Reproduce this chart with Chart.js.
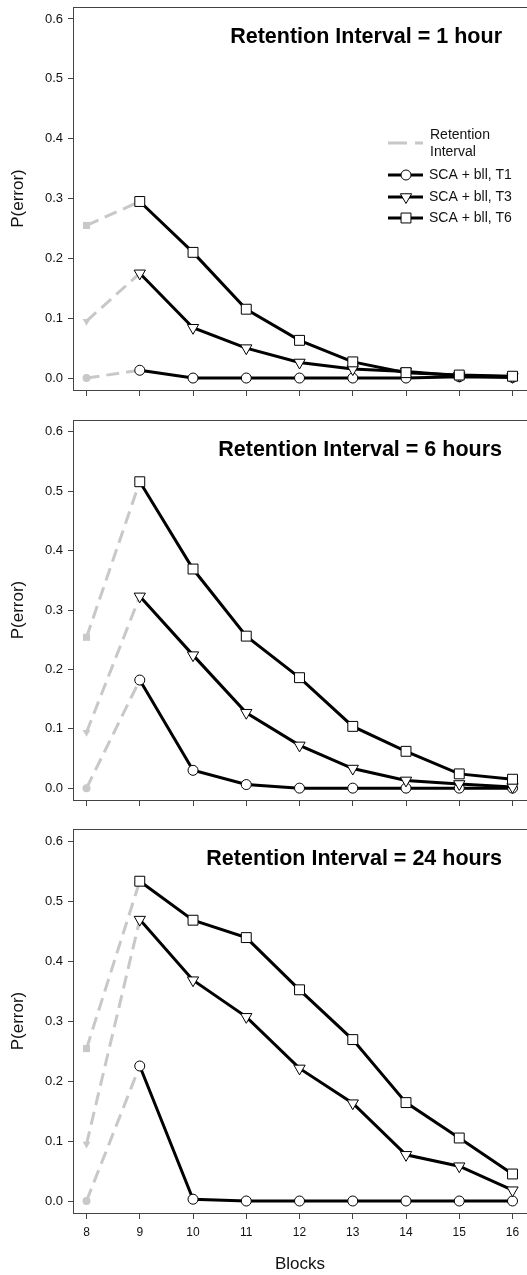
<!DOCTYPE html>
<html>
<head>
<meta charset="utf-8">
<script src="https://cdn.jsdelivr.net/npm/chart.js@4.4.1/dist/chart.umd.min.js"></script>
<style>
  html, body { margin: 0; padding: 0; background: #fff; }
  #wrap { position: relative; width: 527px; height: 1275px; overflow: hidden; }
  canvas { position: absolute; left: 0; }
</style>
</head>
<body>
<div id="wrap">
  <canvas id="p1" width="527" height="410" style="top:0px"></canvas>
  <canvas id="p2" width="527" height="410" style="top:410px"></canvas>
  <canvas id="p3" width="527" height="455" style="top:820px"></canvas>
</div>
<script>
'use strict';

// ---- data ----
const blocks = [9, 10, 11, 12, 13, 14, 15, 16];
const startBlock = 8;
const xTickValues = [8, 9, 10, 11, 12, 13, 14, 15, 16];
const yTickValues = [0, 0.1, 0.2, 0.3, 0.4, 0.5, 0.6];
const seriesLabels = ['SCA + bll, T1', 'SCA + bll, T3', 'SCA + bll, T6'];
const panelTitles = ['Retention Interval = 1 hour', 'Retention Interval = 6 hours', 'Retention Interval = 24 hours'];

// P(error) for blocks 9..16
const hour1T1 = [0.013, 0.0, 0.0, 0.0, 0.0, 0.0, 0.002, 0.001];
const hour1T3 = [0.175, 0.084, 0.05, 0.026, 0.015, 0.011, 0.004, 0.002];
const hour1T6 = [0.295, 0.21, 0.115, 0.063, 0.027, 0.009, 0.005, 0.003];

const hour6T1 = [0.182, 0.03, 0.006, 0.0, 0.0, 0.0, 0.0, 0.0];
const hour6T3 = [0.323, 0.224, 0.127, 0.072, 0.033, 0.013, 0.007, 0.002];
const hour6T6 = [0.516, 0.369, 0.256, 0.186, 0.104, 0.062, 0.024, 0.015];

const hour24T1 = [0.225, 0.003, 0.0, 0.0, 0.0, 0.0, 0.0, 0.0];
const hour24T3 = [0.469, 0.368, 0.307, 0.221, 0.163, 0.077, 0.058, 0.018];
const hour24T6 = [0.533, 0.468, 0.439, 0.352, 0.269, 0.164, 0.105, 0.045];

// block 8 values (before the retention interval): T1, T3, T6
const hour1Start = [0.0, 0.095, 0.255];
const hour6Start = [0.0, 0.094, 0.254];
const hour24Start = [0.0, 0.095, 0.254];

// ---- styles ----
const FONT = "'Liberation Sans', Arial, Helvetica, sans-serif";
const AXIS = '#444';
const GRAY = '#c8c8c8';
const DASH = [13, 7];
const MARKERS = [
    { style: 'circle', r: 5, rot: 0, gr: 4 },
    { style: 'triangle', r: 6.5, rot: 180, gr: 4.5 },
    { style: 'rect', r: 7, rot: 0, gr: 5 }
];

function toPoints(xs, ys) {
    return xs.map((x, i) => ({ x: x, y: ys[i] }));
}

function buildDatasets(series, starts) {
    const black = [];
    const gray = [];
    // T6 first so it sits on top, gray retention lines last (drawn underneath)
    [2, 1, 0].forEach(k => {
        const m = MARKERS[k];
        black.push({
            label: seriesLabels[k],
            data: toPoints(blocks, series[k]),
            borderColor: '#000',
            borderWidth: 3,
            pointStyle: m.style,
            pointRadius: m.r,
            pointRotation: m.rot,
            pointBackgroundColor: '#fff',
            pointBorderColor: '#000',
            pointBorderWidth: 1,
            tension: 0
        });
        gray.push({
            label: 'Retention Interval',
            data: toPoints([startBlock, blocks[0]], [starts[k], series[k][0]]),
            borderColor: GRAY,
            borderWidth: 3,
            borderDash: DASH,
            pointStyle: m.style,
            pointRadius: [m.gr, 0],
            pointRotation: m.rot,
            pointBackgroundColor: GRAY,
            pointBorderColor: GRAY,
            pointBorderWidth: 0,
            tension: 0
        });
    });
    return black.concat(gray);
}

function framePlugin(title) {
    return {
        id: 'frame',
        afterDraw(chart) {
            const ctx = chart.ctx;
            const a = chart.chartArea;
            ctx.save();
            ctx.strokeStyle = AXIS;
            ctx.lineWidth = 1;
            ctx.beginPath();
            ctx.moveTo(a.left, a.top + 0.5);
            ctx.lineTo(a.right, a.top + 0.5);
            ctx.stroke();
            ctx.fillStyle = '#000';
            ctx.font = 'bold 21.5px ' + FONT;
            ctx.textAlign = 'right';
            ctx.textBaseline = 'middle';
            ctx.fillText(title, 502, a.top + 30);
            ctx.restore();
        }
    };
}

const legendPlugin = {
    id: 'panelLegend',
    afterDraw(chart) {
        const ctx = chart.ctx;
        ctx.save();
        ctx.font = '14px ' + FONT;
        ctx.textAlign = 'left';
        ctx.textBaseline = 'middle';
        // retention interval entry
        ctx.strokeStyle = GRAY;
        ctx.lineWidth = 3;
        ctx.setLineDash([19, 8]);
        ctx.beginPath();
        ctx.moveTo(388, 143);
        ctx.lineTo(423, 143);
        ctx.stroke();
        ctx.setLineDash([]);
        ctx.fillStyle = '#111';
        ctx.fillText('Retention', 430, 135);
        ctx.fillText('Interval', 430, 152);
        const rows = [175, 197, 218];
        [0, 1, 2].forEach(k => {
            const y = rows[k];
            const m = MARKERS[k];
            ctx.strokeStyle = '#000';
            ctx.lineWidth = 3;
            ctx.beginPath();
            ctx.moveTo(388, y);
            ctx.lineTo(423, y);
            ctx.stroke();
            ctx.fillStyle = '#fff';
            ctx.lineWidth = 1;
            Chart.helpers.drawPoint(ctx, { pointStyle: m.style, rotation: m.rot, radius: m.r, borderWidth: 1 }, 406, y);
            ctx.fillStyle = '#111';
            ctx.fillText(seriesLabels[k], 429, y);
        });
        ctx.restore();
    }
};

function makePanel(id, idx, series, starts, opts) {
    const last = opts.showX;
    const plugins = [framePlugin(panelTitles[idx])];
    if (opts.legend) plugins.push(legendPlugin);
    return new Chart(document.getElementById(id), {
        type: 'line',
        data: { datasets: buildDatasets(series, starts) },
        plugins: plugins,
        options: {
            responsive: false,
            animation: false,
            devicePixelRatio: 1,
            layout: {
                autoPadding: false,
                padding: { top: opts.padTop, left: 0, right: 0, bottom: 0 }
            },
            plugins: {
                legend: { display: false },
                tooltip: { enabled: false },
                title: { display: false }
            },
            scales: {
                x: {
                    type: 'linear',
                    min: 7.746,
                    max: 16.272,
                    afterBuildTicks: s => { s.ticks = xTickValues.map(v => ({ value: v })); },
                    afterFit: s => {
                        s.height = opts.xHeight;
                        s.paddingLeft = 0;
                        s.paddingRight = 0;
                    },
                    grid: { drawOnChartArea: false, drawTicks: true, tickLength: 6, color: AXIS },
                    border: { display: true, color: AXIS, width: 1 },
                    ticks: {
                        display: last,
                        autoSkip: false,
                        maxRotation: 0,
                        padding: 6,
                        color: '#111',
                        font: { family: FONT, size: 12 }
                    },
                    title: {
                        display: last,
                        text: 'Blocks',
                        color: '#111',
                        font: { family: FONT, size: 17 },
                        padding: { top: 4, bottom: 0 }
                    }
                },
                y: {
                    min: -0.02,
                    max: 0.62,
                    afterBuildTicks: s => { s.ticks = yTickValues.map(v => ({ value: v })); },
                    afterFit: s => {
                        s.width = 73;
                        s.paddingTop = 0;
                        s.paddingBottom = 0;
                    },
                    grid: { drawOnChartArea: false, drawTicks: true, tickLength: 5, color: AXIS },
                    border: { display: true, color: AXIS, width: 1 },
                    ticks: {
                        padding: 5,
                        color: '#111',
                        font: { family: FONT, size: 13 },
                        callback: v => Number(v).toFixed(1)
                    },
                    title: {
                        display: true,
                        text: 'P(error)',
                        color: '#111',
                        font: { family: FONT, size: 17 },
                        padding: { top: 8, bottom: 0 }
                    }
                }
            }
        }
    });
}

makePanel('p1', 0, [hour1T1, hour1T3, hour1T6], hour1Start, { padTop: 7, xHeight: 20, showX: false, legend: true });
makePanel('p2', 1, [hour6T1, hour6T3, hour6T6], hour6Start, { padTop: 10, xHeight: 20, showX: false, legend: false });
makePanel('p3', 2, [hour24T1, hour24T3, hour24T6], hour24Start, { padTop: 9, xHeight: 62, showX: true, legend: false });
</script>
</body>
</html>
